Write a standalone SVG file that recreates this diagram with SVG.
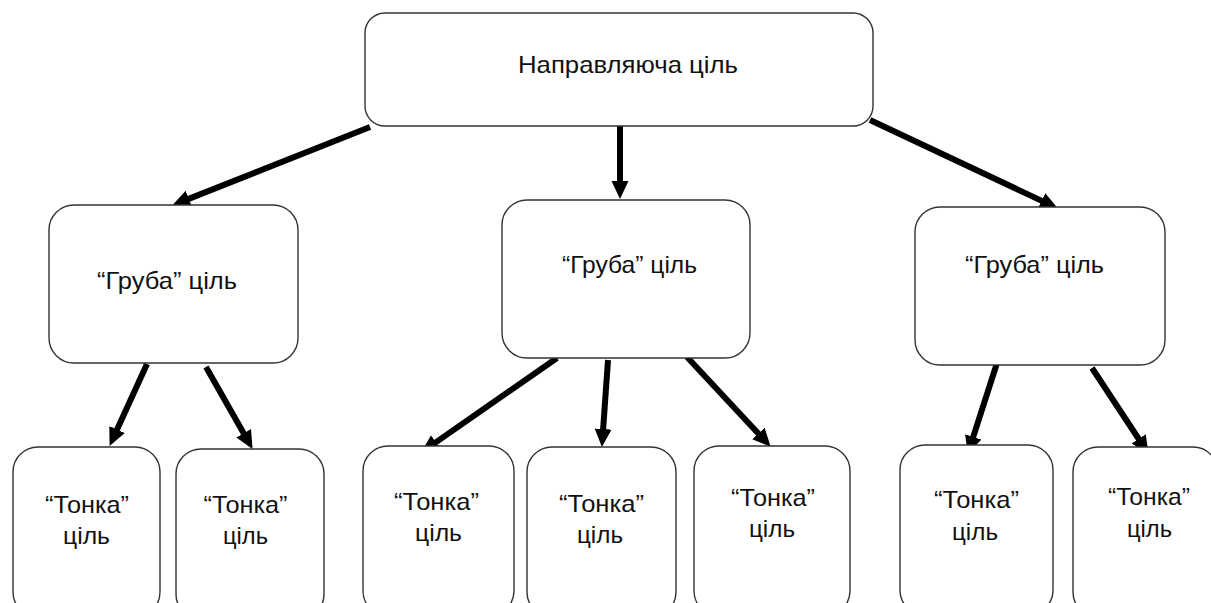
<svg xmlns="http://www.w3.org/2000/svg" width="1211" height="603" viewBox="0 0 1211 603">
<style>
.box{fill:#fff;stroke:#333;stroke-width:1.4}
.t{font-family:"Liberation Sans",Arial,sans-serif;font-size:24px;fill:#111;text-anchor:middle}
.c{stroke:#000;stroke-width:6;fill:none;marker-end:url(#ah)}
</style>
<defs>
<marker id="ah" markerUnits="userSpaceOnUse" markerWidth="19" markerHeight="19" refX="5" refY="8.5" orient="auto" viewBox="0 0 19 17">
<path d="M0,0 L18,8.5 L0,17 z" fill="#000"/>
</marker>
</defs>
<rect width="1211" height="603" fill="#fff"/>
<g id="connectors">
<line class="c" x1="370" y1="127" x2="184.2" y2="200.6"/>
<line class="c" x1="620" y1="122" x2="620" y2="186"/>
<line class="c" x1="870" y1="120" x2="1046.1" y2="202.9"/>
<line class="c" x1="147" y1="364" x2="115" y2="434.1"/>
<line class="c" x1="206" y1="367" x2="246.1" y2="437.6"/>
<line class="c" x1="557" y1="358" x2="431.8" y2="445.1"/>
<line class="c" x1="608" y1="360" x2="602.8" y2="434"/>
<line class="c" x1="687" y1="357" x2="761.8" y2="437.2"/>
<line class="c" x1="997" y1="363" x2="971.7" y2="441.6"/>
<line class="c" x1="1092" y1="368" x2="1141.4" y2="443"/>
</g>
<g id="root">
<rect class="box" x="365" y="13" width="508" height="113" rx="20"/>
<text class="t" x="628" y="73" textLength="220" lengthAdjust="spacingAndGlyphs">Направляюча ціль</text>
</g>
<g id="g1">
<rect class="box" x="49" y="205" width="249" height="158" rx="25"/>
<text class="t" x="167" y="289" textLength="140" lengthAdjust="spacingAndGlyphs">“Груба” ціль</text>
</g>
<g id="g2">
<rect class="box" x="502" y="200" width="248" height="158" rx="25"/>
<text class="t" x="629.5" y="273" textLength="135" lengthAdjust="spacingAndGlyphs">“Груба” ціль</text>
</g>
<g id="g3">
<rect class="box" x="915" y="207" width="250" height="158" rx="25"/>
<text class="t" x="1034.5" y="273" textLength="139" lengthAdjust="spacingAndGlyphs">“Груба” ціль</text>
</g>
<g id="t1">
<rect class="box" x="13" y="447" width="147" height="170" rx="25"/>
<text class="t" x="87" y="513" textLength="84" lengthAdjust="spacingAndGlyphs">“Тонка”</text>
<text class="t" x="86.5" y="544" textLength="47" lengthAdjust="spacingAndGlyphs">ціль</text>
</g>
<g id="t2">
<rect class="box" x="176" y="449" width="148" height="170" rx="25"/>
<text class="t" x="245.5" y="513" textLength="84" lengthAdjust="spacingAndGlyphs">“Тонка”</text>
<text class="t" x="245.5" y="544" textLength="45" lengthAdjust="spacingAndGlyphs">ціль</text>
</g>
<g id="t3">
<rect class="box" x="363" y="446" width="151" height="170" rx="25"/>
<text class="t" x="436.5" y="510" textLength="85" lengthAdjust="spacingAndGlyphs">“Тонка”</text>
<text class="t" x="438.5" y="541" textLength="47" lengthAdjust="spacingAndGlyphs">ціль</text>
</g>
<g id="t4">
<rect class="box" x="527" y="447" width="149" height="170" rx="25"/>
<text class="t" x="601.5" y="512" textLength="85" lengthAdjust="spacingAndGlyphs">“Тонка”</text>
<text class="t" x="600" y="543" textLength="46" lengthAdjust="spacingAndGlyphs">ціль</text>
</g>
<g id="t5">
<rect class="box" x="694" y="446" width="156" height="170" rx="25"/>
<text class="t" x="773" y="506" textLength="84" lengthAdjust="spacingAndGlyphs">“Тонка”</text>
<text class="t" x="772" y="537" textLength="46" lengthAdjust="spacingAndGlyphs">ціль</text>
</g>
<g id="t6">
<rect class="box" x="900" y="445" width="153" height="170" rx="25"/>
<text class="t" x="976.5" y="508" textLength="85" lengthAdjust="spacingAndGlyphs">“Тонка”</text>
<text class="t" x="975" y="540" textLength="46" lengthAdjust="spacingAndGlyphs">ціль</text>
</g>
<g id="t7">
<rect class="box" x="1073" y="447" width="145" height="170" rx="25"/>
<text class="t" x="1149" y="505" textLength="82" lengthAdjust="spacingAndGlyphs">“Тонка”</text>
<text class="t" x="1149.5" y="537" textLength="45" lengthAdjust="spacingAndGlyphs">ціль</text>
</g>
</svg>
